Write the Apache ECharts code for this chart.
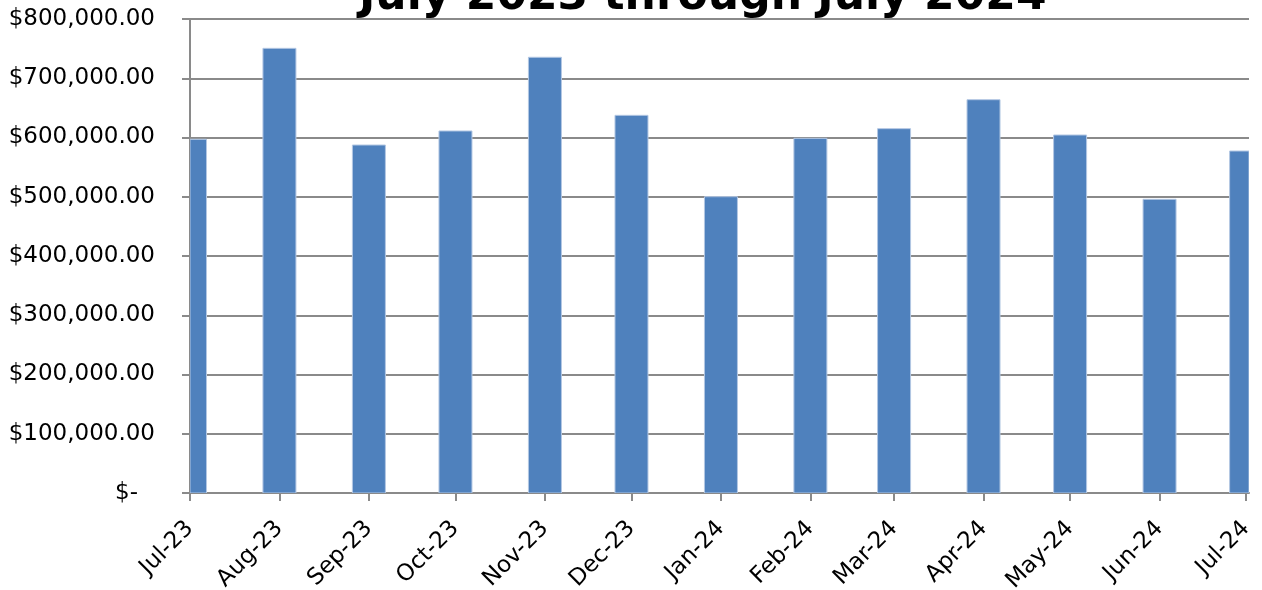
<!DOCTYPE html>
<html>
<head>
<meta charset="utf-8">
<title>July 2023 through July 2024</title>
<script src="https://cdn.jsdelivr.net/npm/echarts@6/dist/echarts.min.js"></script>
<style>
  html, body { margin: 0; padding: 0; background: #ffffff; }
  #chart { width: 1262px; height: 590px; }
</style>
</head>
<body>
<div id="chart"></div>
<script>
// Monthly totals, one bar per month start
const monthLabels = ['Jul-23', 'Aug-23', 'Sep-23', 'Oct-23', 'Nov-23', 'Dec-23',
                     'Jan-24', 'Feb-24', 'Mar-24', 'Apr-24', 'May-24', 'Jun-24', 'Jul-24'];
const monthDates = ['2023-07-01', '2023-08-01', '2023-09-01', '2023-10-01', '2023-11-01', '2023-12-01',
                    '2024-01-01', '2024-02-01', '2024-03-01', '2024-04-01', '2024-05-01', '2024-06-01', '2024-07-01'];
const monthTotals = [597000, 750500, 587300, 611000, 735400, 637400,
                     500100, 598600, 614900, 663800, 604200, 495700, 577200];
const yTicks = [0, 100000, 200000, 300000, 400000, 500000, 600000, 700000, 800000];

const titleText = 'July 2023 through July 2024';

// Dates become day counts on a linear axis, so months keep their true lengths
const DAY = 86400000;
function toUtc(s) {
  const p = s.split('-').map(Number);
  return Date.UTC(p[0], p[1] - 1, p[2]);
}
const origin = toUtc(monthDates[0]);
const tickDays = monthDates.map(d => Math.round((toUtc(d) - origin) / DAY));

function money(v) {
  if (v === 0) return '{z|$-}';
  return '$' + v.toLocaleString('en-US', { minimumFractionDigits: 2, maximumFractionDigits: 2 });
}

const axisGray = '#8a8a8a';
const barFill = '#4f81bd';
const barEdge = '#b3c7e3';
const barWidth = 33;
const font = 'DejaVu Sans';

// Bars centred on their dates, cut off at the plot edges
function renderBar(params, api) {
  const top = api.coord([api.value(0), api.value(1)]);
  const base = api.coord([api.value(0), 0]);
  const cs = params.coordSys;
  const shape = echarts.graphic.clipRectByRect(
    { x: top[0] - barWidth / 2, y: top[1], width: barWidth, height: base[1] - top[1] },
    { x: cs.x, y: cs.y, width: cs.width, height: cs.height }
  );
  if (!shape) return null;
  return {
    type: 'rect',
    shape: shape,
    style: { fill: barFill, stroke: barEdge, lineWidth: 1 }
  };
}

const chart = echarts.init(document.getElementById('chart'), null, { renderer: 'canvas' });
chart.setOption({
  animation: false,
  backgroundColor: '#ffffff',
  title: {
    text: titleText,
    left: 354,
    top: -29,
    textStyle: { fontFamily: font, fontSize: 44, fontWeight: 'bold', color: '#000000' }
  },
  grid: { left: 190, right: 13, top: 19, bottom: 97, containLabel: false, outerBoundsMode: 'none' },
  xAxis: {
    type: 'value',
    min: tickDays[0],
    max: tickDays[tickDays.length - 1] + 1,
    axisLine: { show: true, onZero: false, lineStyle: { color: axisGray, width: 2 } },
    axisTick: {
      show: true, length: 8, inside: false,
      customValues: tickDays,
      lineStyle: { color: axisGray, width: 2 }
    },
    axisLabel: {
      customValues: tickDays,
      rotate: 45,
      margin: 32,
      padding: [10, 0, 0, 0],
      fontFamily: font,
      fontSize: 23,
      color: '#000000',
      showMinLabel: true,
      showMaxLabel: true,
      formatter: function (v) {
        const i = tickDays.indexOf(v);
        return i >= 0 ? monthLabels[i] : '';
      }
    },
    splitLine: { show: false }
  },
  yAxis: {
    type: 'value',
    min: yTicks[0],
    max: yTicks[yTicks.length - 1],
    interval: yTicks[1] - yTicks[0],
    axisLine: { show: true, lineStyle: { color: axisGray, width: 2 } },
    axisTick: { show: true, length: 8, inside: false, lineStyle: { color: axisGray, width: 2 } },
    axisLabel: {
      margin: 35,
      fontFamily: font,
      fontSize: 23,
      color: '#000000',
      formatter: money,
      rich: { z: { fontFamily: font, fontSize: 23, color: '#000000', padding: [0, 17, 0, 0] } }
    },
    splitLine: { show: true, lineStyle: { color: axisGray, width: 2 } }
  },
  series: [{
    type: 'custom',
    clip: true,
    renderItem: renderBar,
    encode: { x: 0, y: 1 },
    data: tickDays.map((d, i) => [d, monthTotals[i]])
  }]
});
</script>
</body>
</html>
